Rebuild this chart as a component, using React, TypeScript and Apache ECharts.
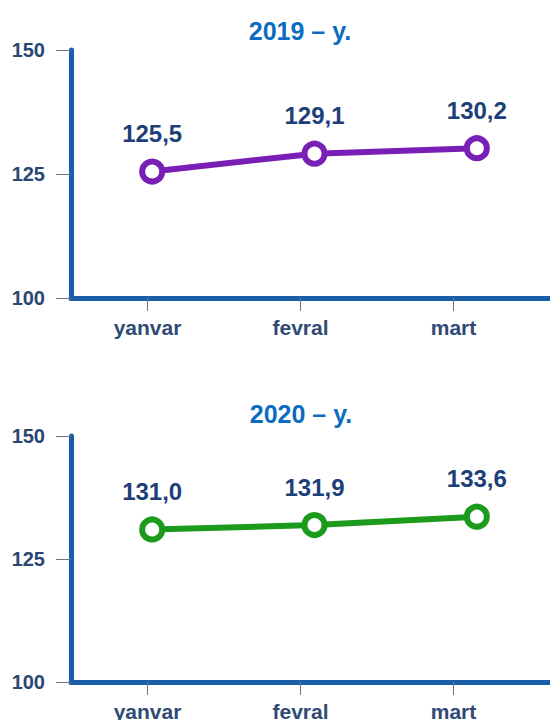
import React, { useEffect, useRef } from "react";
import * as echarts from "echarts";

const months = ["yanvar", "fevral", "mart"];
const values2019 = [125.5, 129.1, 130.2];
const values2020 = [131.0, 131.9, 133.6];
const yTicks = [100, 125, 150];
const titles = ["2019 – y.", "2020 – y."];

const FONT = "'Liberation Sans', Arial, sans-serif";
const AXIS_BLUE = "#1a5ea9";
const LABEL_DARK = "#1d3f78";
const TICK_GREY = "#6b7280";

export default function App() {
  const ref = useRef<HTMLDivElement>(null);
  useEffect(() => {
    if (!ref.current) return;
    const chart = echarts.init(ref.current, null, { renderer: "svg" });
    // grids 0,1: data plots (axis lines, points); grids 2,3: category labels & ticks
    const base = { outerBoundsMode: "none", containLabel: false };
    const grids = [
      { ...base, left: 71, width: 487, top: 50, height: 248 },
      { ...base, left: 71, width: 487, top: 436, height: 246 },
      { ...base, left: 71, width: 459, top: 50, height: 248 },
      { ...base, left: 71, width: 459, top: 436, height: 246 },
    ];
    const mkXData = (gi: number) => ({
      type: "category",
      gridIndex: gi,
      data: months,
      boundaryGap: true,
      axisLine: { show: true, lineStyle: { color: AXIS_BLUE, width: 5 } },
      axisTick: { show: false },
      axisLabel: { show: false },
      splitLine: { show: false },
    });
    const mkXLabels = (gi: number) => ({
      type: "category",
      gridIndex: gi,
      data: months,
      boundaryGap: true,
      axisLine: { show: false },
      axisTick: { show: true, alignWithLabel: true, length: 13, lineStyle: { color: TICK_GREY, width: 1 } },
      axisLabel: { color: "#2f4a74", fontSize: 21, fontWeight: "bold", fontFamily: FONT, margin: 19 },
      splitLine: { show: false },
    });
    const mkY = (gi: number) => ({
      type: "value",
      gridIndex: gi,
      min: yTicks[0],
      max: yTicks[yTicks.length - 1],
      interval: 25,
      axisLine: { show: true, lineStyle: { color: AXIS_BLUE, width: 5 } },
      axisTick: { show: true, length: 15, lineStyle: { color: TICK_GREY, width: 1 } },
      axisLabel: { color: "#2a4673", fontSize: 20, fontWeight: "bold", fontFamily: FONT, margin: 26 },
      splitLine: { show: false },
    });
    const mkYHidden = (gi: number) => ({
      type: "value",
      gridIndex: gi,
      min: yTicks[0],
      max: yTicks[yTicks.length - 1],
      show: false,
    });
    const fmt = (p: any) => Number(p.value).toFixed(1).replace(".", ",");
    const mkSeries = (gi: number, data: number[], color: string) => ({
      type: "line",
      xAxisIndex: gi,
      yAxisIndex: gi,
      data,
      symbol: "circle",
      symbolSize: 20,
      lineStyle: { color, width: 6 },
      itemStyle: { color: "#ffffff", borderColor: color, borderWidth: 6 },
      label: {
        show: true,
        position: "top",
        distance: 13,
        formatter: fmt,
        color: LABEL_DARK,
        fontSize: 24,
        fontWeight: "bold",
        fontFamily: FONT,
      },
      z: 5,
    });
    const titleStyle = { color: "#0b6cc0", fontSize: 25, fontWeight: "bold", fontFamily: FONT };
    chart.setOption({
      animation: false,
      backgroundColor: "#ffffff",
      title: [
        { text: titles[0], left: 295, top: 13, textAlign: "center", textStyle: titleStyle },
        { text: titles[1], left: 296, top: 396, textAlign: "center", textStyle: titleStyle },
      ],
      grid: grids,
      xAxis: [mkXData(0), mkXData(1), mkXLabels(2), mkXLabels(3)],
      yAxis: [mkY(0), mkY(1), mkYHidden(2), mkYHidden(3)],
      series: [mkSeries(0, values2019, "#7a1fb6"), mkSeries(1, values2020, "#1b9a1b")],
    });
    return () => chart.dispose();
  }, []);
  return <div ref={ref} style={{ position: "fixed", left: 0, top: 0, width: 550, height: 720 }} />;
}
